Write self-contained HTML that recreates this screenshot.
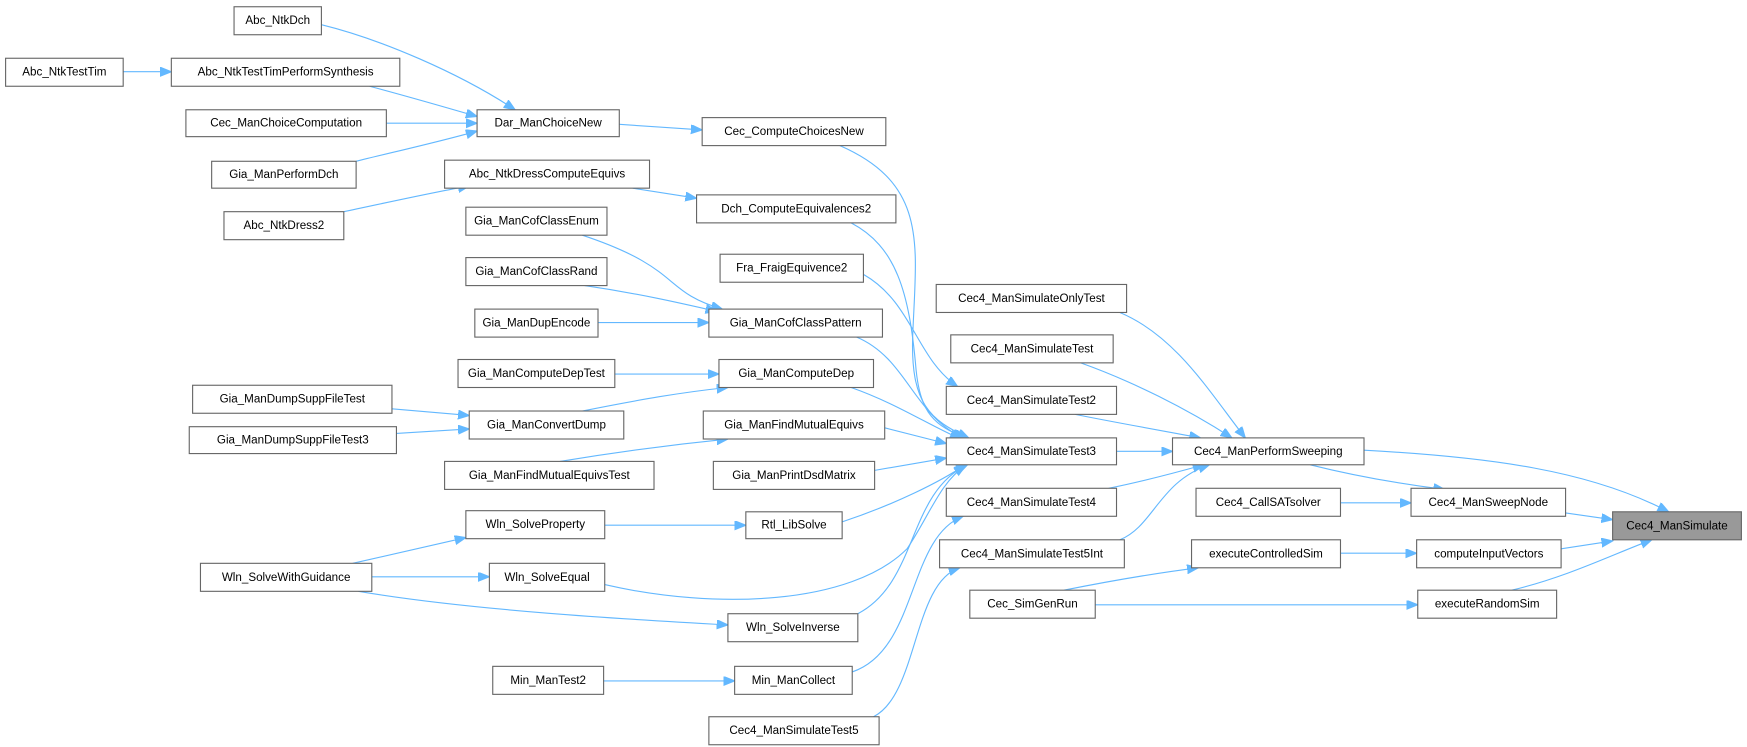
<!DOCTYPE html>
<html><head><meta charset="utf-8"><style>
html,body{margin:0;padding:0;background:#fff;}
svg{display:block}
text{font-family:"Liberation Sans",Arial,sans-serif;font-size:10.4px;fill:#000;text-anchor:middle;dominant-baseline:central}
rect{fill:#fff;stroke:#666;stroke-width:1}
path{fill:none;stroke:#63b8ff;stroke-width:1;marker-end:url(#a)}
</style></head><body>
<svg width="1747" height="747" viewBox="0 0 1560 667" xmlns="http://www.w3.org/2000/svg">
<defs><marker id="a" markerUnits="userSpaceOnUse" markerWidth="12" markerHeight="10" refX="10" refY="4" orient="auto"><path d="M0,0 L10,4 L0,8 Z" style="fill:#63b8ff;stroke:#63b8ff;marker-end:none"/></marker></defs>
<g>
<path d="M287,22 C340,35 410,65 460,98"/>
<path d="M110,64 L153,64"/>
<path d="M330,77 C360,85 395,95 426,104"/>
<path d="M345,110 L426,110"/>
<path d="M318,144 C350,136 395,126 426,117"/>
<path d="M553,111 L627,116"/>
<path d="M307,189 C345,181 385,172 419,166"/>
<path d="M565,168 L622,177"/>
<path d="M520,210 C610,240 590,260 645,276"/>
<path d="M522,255 C570,262 605,270 640,278"/>
<path d="M534,288 L633,288"/>
<path d="M549,334 L642,334"/>
<path d="M520,367 C570,357 610,350 650,346"/>
<path d="M350,365 L419,371"/>
<path d="M354,387 L419,383"/>
<path d="M500,412 C560,402 610,396 650,392"/>
<path d="M315,503 C350,495 385,487 416,480"/>
<path d="M332,515 L437,515"/>
<path d="M320,528 C420,545 560,553 650,558"/>
<path d="M540,469 L666,469"/>
<path d="M539,608 L656,608"/>
<path d="M750,130 C830,165 818,220 815,300 C813,360 830,375 865,391"/>
<path d="M760,199 C800,220 812,260 818,330 C822,370 835,380 862,391"/>
<path d="M771,245 C815,270 818,320 855,345"/>
<path d="M765,301 C810,320 815,370 860,391"/>
<path d="M760,346 C800,360 830,380 858,392"/>
<path d="M790,382 L845,396"/>
<path d="M781,420 L845,409"/>
<path d="M752,466 C800,450 840,430 862,415"/>
<path d="M540,522 C640,545 760,540 810,490 C830,460 840,430 862,416"/>
<path d="M766,548 C820,520 810,440 864,415"/>
<path d="M761,600 C820,580 810,480 860,461"/>
<path d="M780,640 C820,620 815,520 857,507"/>
<path d="M960,370 C1000,378 1040,385 1072,391"/>
<path d="M1000,279 C1050,300 1080,350 1112,391"/>
<path d="M965,324 C1010,340 1060,365 1100,391"/>
<path d="M997,403 L1047,403"/>
<path d="M990,436 C1020,430 1050,422 1075,415"/>
<path d="M1000,482 C1030,470 1035,430 1080,415"/>
<path d="M1218,402 C1330,408 1420,420 1490,457"/>
<path d="M1170,415 C1210,425 1250,432 1290,437"/>
<path d="M1197,449 L1260,449"/>
<path d="M1398,458 L1440,464"/>
<path d="M1197,494 L1265,494"/>
<path d="M1394,490 L1440,483"/>
<path d="M950,527 C990,519 1030,512 1070,507"/>
<path d="M978,540 L1266,540"/>
<path d="M1350,527 C1400,515 1440,495 1475,482"/>
</g>
<g>
<rect x="209" y="6" width="78" height="25"/><text x="248" y="18.5">Abc_NtkDch</text>
<rect x="5" y="52" width="105" height="25"/><text x="57.5" y="64.5">Abc_NtkTestTim</text>
<rect x="153" y="52" width="204" height="25"/><text x="255" y="64.5">Abc_NtkTestTimPerformSynthesis</text>
<rect x="166" y="98" width="179" height="24"/><text x="255.5" y="110">Cec_ManChoiceComputation</text>
<rect x="189" y="144" width="129" height="24"/><text x="253.5" y="156">Gia_ManPerformDch</text>
<rect x="200" y="189" width="107" height="25"/><text x="253.5" y="201.5">Abc_NtkDress2</text>
<rect x="426" y="98" width="127" height="24"/><text x="489.5" y="110">Dar_ManChoiceNew</text>
<rect x="397" y="143" width="183" height="25"/><text x="488.5" y="155.5">Abc_NtkDressComputeEquivs</text>
<rect x="416" y="185" width="126" height="25"/><text x="479" y="197.5">Gia_ManCofClassEnum</text>
<rect x="416" y="230" width="126" height="25"/><text x="479" y="242.5">Gia_ManCofClassRand</text>
<rect x="424" y="276" width="110" height="25"/><text x="479" y="288.5">Gia_ManDupEncode</text>
<rect x="409" y="321" width="140" height="25"/><text x="479" y="333.5">Gia_ManComputeDepTest</text>
<rect x="172" y="344" width="178" height="25"/><text x="261" y="356.5">Gia_ManDumpSuppFileTest</text>
<rect x="169" y="381" width="185" height="24"/><text x="261.5" y="393">Gia_ManDumpSuppFileTest3</text>
<rect x="419" y="367" width="138" height="25"/><text x="488" y="379.5">Gia_ManConvertDump</text>
<rect x="397" y="412" width="187" height="25"/><text x="490.5" y="424.5">Gia_ManFindMutualEquivsTest</text>
<rect x="416" y="456" width="124" height="25"/><text x="478" y="468.5">Wln_SolveProperty</text>
<rect x="179" y="503" width="153" height="25"/><text x="255.5" y="515.5">Wln_SolveWithGuidance</text>
<rect x="437" y="503" width="103" height="25"/><text x="488.5" y="515.5">Wln_SolveEqual</text>
<rect x="440" y="595" width="99" height="25"/><text x="489.5" y="607.5">Min_ManTest2</text>
<rect x="627" y="105" width="164" height="25"/><text x="709" y="117.5">Cec_ComputeChoicesNew</text>
<rect x="622" y="174" width="178" height="25"/><text x="711" y="186.5">Dch_ComputeEquivalences2</text>
<rect x="643" y="227" width="128" height="25"/><text x="707" y="239.5">Fra_FraigEquivence2</text>
<rect x="633" y="276" width="155" height="25"/><text x="710.5" y="288.5">Gia_ManCofClassPattern</text>
<rect x="642" y="321" width="138" height="25"/><text x="711" y="333.5">Gia_ManComputeDep</text>
<rect x="628" y="367" width="162" height="25"/><text x="709" y="379.5">Gia_ManFindMutualEquivs</text>
<rect x="637" y="412" width="144" height="25"/><text x="709" y="424.5">Gia_ManPrintDsdMatrix</text>
<rect x="666" y="457" width="86" height="24"/><text x="709" y="469">Rtl_LibSolve</text>
<rect x="650" y="548" width="116" height="25"/><text x="708" y="560.5">Wln_SolveInverse</text>
<rect x="656" y="595" width="105" height="25"/><text x="708.5" y="607.5">Min_ManCollect</text>
<rect x="633" y="640" width="152" height="25"/><text x="709" y="652.5">Cec4_ManSimulateTest5</text>
<rect x="836" y="254" width="170" height="25"/><text x="921" y="266.5">Cec4_ManSimulateOnlyTest</text>
<rect x="849" y="299" width="145" height="25"/><text x="921.5" y="311.5">Cec4_ManSimulateTest</text>
<rect x="845" y="345" width="152" height="25"/><text x="921" y="357.5">Cec4_ManSimulateTest2</text>
<rect x="845" y="391" width="152" height="24"/><text x="921" y="403">Cec4_ManSimulateTest3</text>
<rect x="845" y="436" width="152" height="25"/><text x="921" y="448.5">Cec4_ManSimulateTest4</text>
<rect x="839" y="482" width="165" height="25"/><text x="921.5" y="494.5">Cec4_ManSimulateTest5Int</text>
<rect x="866" y="527" width="112" height="25"/><text x="922" y="539.5">Cec_SimGenRun</text>
<rect x="1047" y="391" width="171" height="24"/><text x="1132.5" y="403">Cec4_ManPerformSweeping</text>
<rect x="1068" y="436" width="129" height="25"/><text x="1132.5" y="448.5">Cec4_CallSATsolver</text>
<rect x="1064" y="482" width="133" height="25"/><text x="1130.5" y="494.5">executeControlledSim</text>
<rect x="1260" y="436" width="138" height="25"/><text x="1329" y="448.5">Cec4_ManSweepNode</text>
<rect x="1265" y="482" width="129" height="25"/><text x="1329.5" y="494.5">computeInputVectors</text>
<rect x="1266" y="527" width="124" height="25"/><text x="1328" y="539.5">executeRandomSim</text>
<rect x="1440" y="457" width="115" height="25" style="fill:#999"/><text x="1497.5" y="469.5">Cec4_ManSimulate</text>
</g>
</svg>
</body></html>
